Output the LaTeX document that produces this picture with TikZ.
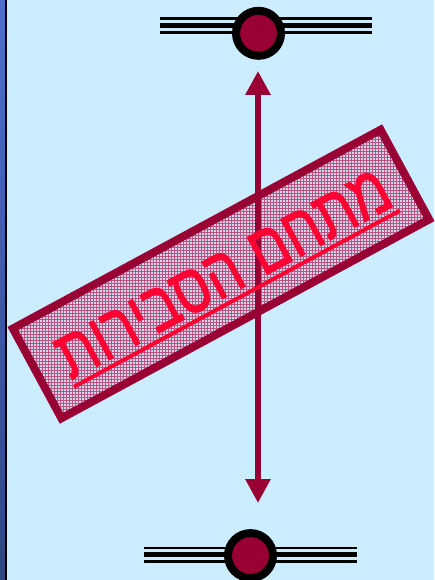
\documentclass[tikz,border=0pt]{standalone}
\usepackage{fontspec}
\newfontfamily\hebfont[Script=Hebrew,FakeBold=1.6]{Liberation Sans}
\TeXXeTstate=1
\usetikzlibrary{arrows.meta,calc,patterns}
\definecolor{sky}{HTML}{CCECFF}
\definecolor{crim}{HTML}{990033}
\definecolor{hot}{HTML}{FF0033}
\definecolor{lilac}{RGB}{214,214,238}
\definecolor{hatch}{RGB}{184,84,126}
\definecolor{stripe}{HTML}{4A70C8}
\definecolor{stripedark}{HTML}{2E4785}

\begin{document}
\begin{tikzpicture}[x=1pt, y=-1pt,
  bead/.style={circle, draw=black, fill=crim, line width=8pt, minimum size=45pt, inner sep=0pt},
  thinrail/.style={line width=2.5pt},
  thickrail/.style={line width=5.5pt},
  arr/.style={{Triangle[length=24pt,width=24pt]}-{Triangle[length=24pt,width=24pt]}, line width=6.5pt, draw=crim},
  frame/.style={draw=crim, line width=8pt, minimum width=418pt, minimum height=102pt, inner sep=0pt, preaction={fill=lilac}, pattern=grid, pattern color=hatch},
  tag/.style={font=\hebfont\fontsize{70}{72}\selectfont, text=hot, inner sep=0pt},
  uline/.style={draw=hot, line width=4pt}]
  % page and left edge
  \useasboundingbox (0,0) rectangle (434,580);
  \fill[sky] (0,0) rectangle (434,580);
  \shade[top color=stripe, bottom color=stripedark] (0,0) rectangle (5,580);
  \fill[black] (5,0) rectangle (7,580);

  % the two rails
  \foreach \y in {18.3,32.3} \draw[thinrail] (160,\y) -- (372,\y);
  \draw[thickrail] (160,25.3) -- (372,25.3);
  \foreach \y in {548,561.7} \draw[thinrail] (144,\y) -- (357,\y);
  \draw[thickrail] (144,554.7) -- (357,554.7);
  \node[bead] (up) at (258.5,33.3) {};
  \node[bead] (down) at (250.5,555.6) {};

  % tilted box
  \node[frame, rotate=28.4] (box) at (221,274) {};

  % range arrow
  \coordinate (atop) at (258,71);
  \coordinate (abot) at (258,503);
  \draw[arr] (atop) -- (abot);

  \node[tag, rotate=28.4, xscale=0.8, anchor=base] (txt) at (233.7,292.5) {\beginR מתחם הסבירות\endR};
  \draw[uline] ($(txt.base west)!7pt!-90:(txt.base east)$) -- ($(txt.base east)!7pt!90:(txt.base west)$);
\end{tikzpicture}
\end{document}
